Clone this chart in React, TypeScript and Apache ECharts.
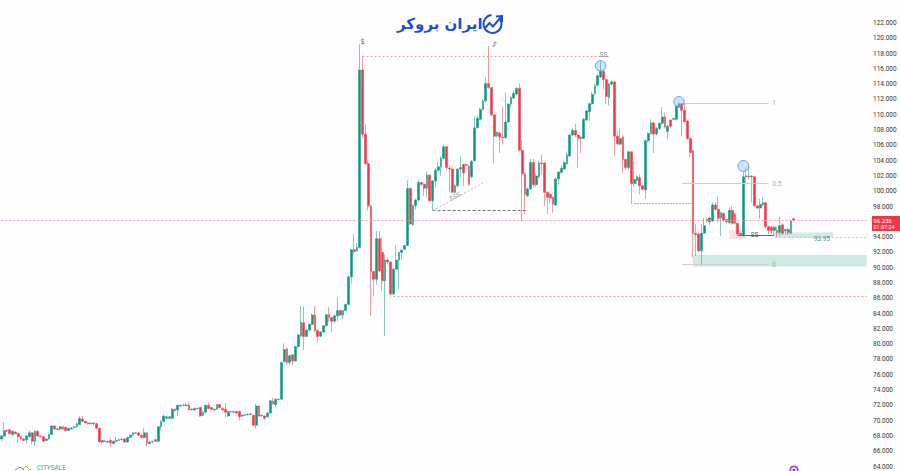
import React, { useEffect, useRef } from 'react';
import * as echarts from 'echarts';

// open, close, low, high (thousands)
const earlyCandles = [
  [67.6,68,67.3,68.1],[68,68.7,67.8,69.8],[68.7,68.6,68.5,68.9],[68.8,68.3,68.2,68.9],[68.2,68.6,68,68.7],
  [68.5,68.3,68.2,68.6],[68.3,67.9,67.1,68.4],[67.9,67.6,67.5,68],[67.6,67.4,67.3,67.7],[67.5,68,67,68.1],
  [67.9,68.4,67.8,68.7],[68.4,67.3,66.9,68.5],[67.3,68.6,66.7,68.8],[68.6,68,67.9,68.7],[68,67.9,67.8,68.1],
  [67.9,67.3,67.2,68],[67.4,67.6,67.3,67.7],[67.6,68.2,67.5,68.3],[68.2,69.3,68.1,69.4],[69.3,68.9,68.8,69.4],
  [68.95,68.85,68.7,69.1],[68.9,69.2,68.6,69.3],[69.2,68.9,68.8,69.3],[69.1,68.7,68.5,69.3],[68.7,69,68.6,69.1],
  [68.9,69,68.8,69.2],[69.1,69.2,69,69.3],[69.2,69.6,69.1,69.7],[69.5,70.3,69.4,70.6],[70.2,69.9,69.8,70.6],
  [69.9,69.7,69.6,70],[69.7,69.6,69.5,69.8],[69.6,69.7,69.5,69.8],[69.7,69.6,69.3,69.8],[69.6,69,68.9,69.7],
  [69,67.2,67.1,69.1],[67.2,67.4,66.9,67.5],[67.3,67.35,67.2,67.5],[67.3,67.2,67.1,67.4],[67.4,67.1,66.6,67.7],
  [67,67.3,66.9,67.4],[67.3,67.4,67.2,67.9],[67.4,67.5,67.3,67.7],[67.5,67.55,67.4,67.7],[67.6,67.2,67.1,67.7],
  [67.2,67.8,67.1,67.9],[67.8,68.1,67.7,68.2],[68.1,68.4,68,68.5],[68.35,68.4,68.3,68.5],[68.4,68.1,68,68.5],
  [68.1,67.8,67.7,68.2],[67.8,68.4,67.7,69],[68.4,67.1,66.6,68.5],[67,67.2,66.9,67.3],[67.2,67.25,67.1,67.4],
  [67.5,67.3,67.2,67.6],[67.3,69.2,67.2,69.3],[69.2,69.9,68.8,70],[69.9,70.6,69.8,70.7],[70.3,70.5,70.2,70.6],
  [70.3,70.5,70.2,70.6],[70.3,71.5,70.2,71.6],[71.5,71.3,71.2,71.6],[71.4,72,70.6,72.1],[71.9,72,71.8,72.1],
  [72,72.05,71.9,72.2],[71.95,72.05,71.9,72.4],[72,71.4,71.3,72.5],[71.5,71.4,71.3,71.6],[71.4,71.6,71.3,71.7],
  [71.55,71.6,71.5,71.7],[71.7,70.6,70.5,71.8],[70.7,71.1,70.6,71.2],[71.1,72,71,72.1],[72,71.6,71.5,72.4],
  [71.7,71.5,71.4,71.8],[71.4,71.5,71.3,71.6],[71.5,72.1,71.4,72.2],[72.1,71.7,71.6,72.2],[71.6,71.4,71.3,71.7],
  [71.5,71.1,70.4,72.3],[70.6,71.2,70.5,71.3],[71.15,71.2,71,71.3],[71.2,71.1,71,71.3],[71.2,71,70.9,71.3],
  [71.2,70.5,70,71.3],[70.6,70.7,70.5,70.8],[70.7,70.8,70.6,70.9],[70.75,70.8,70.7,70.9],[70.9,70.8,70.7,71],
  [70.7,69.4,69.3,70.8],[69.4,71.9,69,72.2],[71.9,70.6,70.5,72],[70.7,70.6,70.5,70.8],[70.6,70.3,70.1,70.7],
  [70.5,71,70.4,71.1],[71,72.6,70.9,72.7],[72.5,72.2,72.1,73],[72.1,72.8,71.8,72.9],[72.75,72.8,72.7,72.9],
  [72.8,77.6,72.7,77.7],
];

const riseCandles = [
  [77.7,79.3,77.6,80.1],[79.4,77.6,77.2,79.5],[77.6,78.5,77.3,78.6],[78.6,77.8,77.3,78.7],[77.8,79.7,77.7,79.8],
  [79.7,81.2,79.5,81.4],[81.1,82.85,80.9,85],[82.8,81,79.2,84.9],[81,81.85,80.9,82],[81.85,82.6,81.7,82.7],
  [82.6,83.8,82.5,84],[83.8,81.8,81.6,85],[81.8,81,80.2,81.9],[81.05,81.6,80.9,81.7],[81.6,82.4,81.5,82.5],
  [82.4,83.85,82.3,84],[83.85,83.5,82.9,84.8],[83.5,83,81.6,83.6],[83,83.7,82.8,83.8],[83.7,84.4,83,86.1],
  [84.4,83.8,83.7,84.5],[83.8,84.4,83.3,84.5],[84.4,85.2,84.3,85.3],[85.2,88.8,85.1,88.9],[88.8,92.35,87.9,92.4],
  [92.35,92.1,91.7,94.4],[92.2,92.65,92.1,93.2],
];

const peakCandles = [
  [92.65,115.85,92.5,119.2],[115.85,107.45,107,117.7],[107.45,103.6,103.4,108.76],[103.6,98.1,97.5,104],
  [98.1,89.5,83.7,98.2],[89.5,88.5,86.3,89.6],[88.5,93.8,87.8,94.8],[93.8,89.6,89.4,94.8],[92,88.3,87,94],
  [88.3,91,81.1,91.7],[91,90.75,90.5,91.2],[90.75,86.55,86.4,90.8],[86.55,89.8,86.4,90],[89.8,91,89.7,92.9],
  [91,92,87.2,92.1],[92,92.3,91,92.4],[92.4,92.9,92.3,93],[92.9,100.35,92.8,101.4],[100.35,95.7,95.6,100.5],
  [95.6,98.1,95.5,98.3],[98.1,98.85,97.6,99],[98.85,101.15,98.7,101.5],[101.15,100.9,100.7,101.2],
  [100.9,100.4,99.4,101],[100.4,102.1,99.2,102.6],[102.1,98.75,98.7,102.2],[98.75,101.35,97.45,101.5],
  [101.35,102.75,100.5,103],[102.75,103.2,102.6,103.9],[103.2,104.3,102,104.6],[104.3,105.8,104.2,106.1],
  [105.8,103.1,102.8,105.9],[103,102.9,99.85,103.3],[102.9,99.85,99.7,103],[99.85,100.7,99.7,100.9],
  [100.7,102.9,100.5,103],[102.9,103.1,101.8,104.6],[103.5,102.4,100.7,103.6],[103.5,103.4,103.2,103.6],
  [103.3,100.9,100.7,103.4],[101.9,103.9,101.7,104.1],[104,108.3,103.9,109.8],[108.3,109.55,108.2,109.9],
  [109.4,110.7,109.3,110.9],[110.7,111.8,110.6,112],[111.8,114.1,111.6,114.85],[114.1,113.55,113.4,119],
  [113.55,110,109.8,113.6],[110,107.2,103.6,110.1],[107.25,107.7,107,107.8],[107.6,107.1,105,107.8],
  [107.1,107,106.1,111],[107,109.05,106.9,112.9],[109.05,111.4,108.9,111.5],[111.4,112.25,111,112.4],
  [112.2,112.8,112,113.2],[112.7,113.45,112.5,113.6],[113.45,105.35,105.2,114.1],[105.35,102.3,96,106.7],
  [102.3,99.6,97,102.5],[99.4,100.3,99.2,100.5],[100.3,103.75,100.2,104.2],[103.75,100.85,100.5,104.2],
  [100.85,102,100.6,102.3],[101.9,103.7,101.7,104],[103.7,103.6,102.2,104.8],[103.7,99.85,98.1,103.8],
  [99.85,99.2,97,100],[99.6,99.1,98.4,99.8],[99.2,98.3,97.2,99.3],[98.2,101.6,98.1,101.8],
  [101.6,102.5,100.9,102.6],[102.45,103,102.3,103.3],[102.9,103.75,102.7,104],[103.6,104.75,103.5,105],
  [104.6,107.35,104.5,107.5],[107.35,107.95,107.2,108.2],[107.95,107.35,107.1,108.85],[107.35,106.9,103,107.4],
  [107.1,106.9,105,107.2],[106.9,109.4,106.8,109.6],[109.3,110.5,109.2,110.7],[110.4,111.45,109.2,111.6],
  [111.45,112.65,111.3,113],[112.8,113.85,112.6,114],[113.85,115.1,113.7,115.3],[114.95,115.7,114.8,117],
  [115.7,114.6,113.3,115.8],[114.6,112.4,111.4,114.7],[112.25,114,111.2,114.2],[114,114.3,113.9,114.5],
  [114.3,107.2,104.6,114.4],[107.2,106.2,106,107.9],[106.15,106.9,106,108.2],[107.1,104.15,102.4,107.3],
  [104.15,103.1,102.9,104.3],[103.1,105.15,102.8,105.3],[105.15,101,98.3,105.2],[101,101.55,100.5,104],
  [101.4,101.9,100.9,102.1],[101.8,100.7,99.6,102.2],[100.7,100.25,100.1,100.8],[100.2,106.6,99,106.8],
  [106.6,107.55,106.4,107.7],[107.55,108.95,107.4,109.4],[108.95,107.45,105,109],[107.5,108.2,107.3,108.4],
  [108.2,108.9,108,109],[108.9,109.7,108.7,111],[109.7,108.4,108.2,110.3],[107.8,108.5,106.8,108.7],
  [109.3,108.5,108.2,109.4],[109.4,109.5,109.2,109.6],[109.4,111.15,109.3,111.3],[111,111.45,110.9,111.6],
  [111.45,110.6,107.2,111.5],[110.6,109.1,109,111.4],[109.2,106.9,106.7,109.3],[106.9,105.05,104.4,107],
];

const lateCandles = [
  [105.3,94.5,91.35,105.4],[94.5,94.3,91.55,95.7],[94.4,92.2,92,94.5],[92.2,94.5,90.25,95.7],[94.5,95.5,94.4,96.5],
  [96.3,96.1,95.9,96.6],[96,96.5,95.6,96.7],[96.1,98.2,96,98.5],[98.2,97.65,97.4,98.5],[97.65,96.45,95.9,99.3],
  [96.5,97.2,94.2,97.3],[97.1,96.2,96,97.2],[96.3,96,95.8,96.4],[95.9,97.5,95.7,97.9],[97.5,95.8,95.6,98.1],
  [97,95.8,95.6,97.2],[95.8,94.4,94.2,95.9],[94.5,94.3,94.2,94.6],[94.2,101.9,94.1,102.5],[102,101.9,101.1,103.1],
  [101.9,102,101.5,103.3],[102,101.9,98.5,102.1],[101.9,98.1,98,102],[98.1,97.8,97.7,98.2],[97.8,98.3,96.35,99],
  [98.2,98.5,98.1,99.2],[98.5,95.35,95.2,98.6],[95.35,94.9,94.4,95.5],[95.3,94.85,94.4,95.4],[94.85,95.3,94.3,95.4],
  [94.9,94.6,94,95.3],[94.6,95.5,94.2,96.65],[95.6,94.5,94.3,95.8],[94.8,95,94.4,95.1],[95,94.6,94.3,95.2],
  [94.5,96.1,94.4,96.2],[96.4,96.236,96.1,96.6],
];

const candles = [...earlyCandles, ...riseCandles, ...peakCandles, ...lateCandles];
const slots = 310; // empty space is left on the right of the last bar
const categories = Array.from({ length: slots }, (_, i) => String(i));

const UP = '#089981';
const DOWN = '#f23645';
const LAST_PRICE = 96.236;

// from: [bar, price], to: [bar, price]
const dashedRed = () => ({ color: '#f59aa2', type: [2, 2], width: 1 });
const fibLine = () => ({ color: '#cfcfcf', type: 'solid', width: 1.2 });
const overlayLines = [
  { from: [0, LAST_PRICE], to: [309, LAST_PRICE], style: dashedRed() },
  { from: [129, 117.7], to: [217, 117.7], style: dashedRed() },
  { from: [140, 86.2], to: [309, 86.2], style: dashedRed() },
  { from: [154, 97.45], to: [188, 97.45], style: { color: '#777', type: [3, 2], width: 1 } },
  { from: [154, 97.45], to: [172, 101.1], style: { color: '#bbb', type: [2, 2], width: 1 } },
  { from: [226, 98.4], to: [247, 98.4], style: { color: '#aaa', type: [2, 1], width: 1 } },
  { from: [243, 111.55], to: [274, 111.55], style: fibLine() },
  { from: [243, 101], to: [274, 101], style: fibLine() },
  { from: [243, 90.4], to: [274, 90.4], style: fibLine() },
  { from: [263, 94.3], to: [276, 94.3], style: { color: '#666', type: 'solid', width: 1 } },
  { from: [278, 93.95], to: [309, 93.95], style: { color: '#a5d6cc', type: [2, 2], width: 1 } },
];

const overlayZones = [
  { from: [247, 91.66], to: [309, 90.15], color: 'rgba(8,153,129,0.2)' },
  { from: [276, 94.6], to: [297, 93.9], color: 'rgba(8,153,129,0.2)' },
  { from: [260, 94.9], to: [266, 93.75], color: 'rgba(242,54,69,0.15)' },
];

const circles = [
  { at: [214, 116.4], size: 10.5 },
  { at: [242, 111.7], size: 10.5 },
  { at: [265, 103.3], size: 11 },
];

const notes = [
  { at: [129, 119.5], text: '$', rotate: 0, color: '#555' },
  { at: [176, 119.2], text: '$', rotate: -25, color: '#666' },
  { at: [215, 117.8], text: 'SS', rotate: 0, color: '#888' },
  { at: [162, 99.3], text: 'SSS', rotate: 28, color: '#999' },
  { at: [269, 94.3], text: 'SS', rotate: 0, color: '#555' },
  { at: [275.5, 111.55], text: '1', rotate: 0, color: '#aaa' },
  { at: [276.5, 101], text: '0.5', rotate: 0, color: '#aaa' },
  { at: [275.5, 90.4], text: '0', rotate: 0, color: '#aaa' },
  { at: [293, 93.8], text: '93.95', rotate: 0, color: '#4d8f83' },
];

const App: React.FC = () => {
  const chartRef = useRef<HTMLDivElement>(null);

  useEffect(() => {
    if (!chartRef.current) return;
    const chart = echarts.init(chartRef.current, null, { renderer: 'svg' });

    const option: any = {
      animation: false,
      backgroundColor: '#fefefe',
      textStyle: { fontFamily: 'Roboto, sans-serif' },
      grid: { left: 0, right: 32, top: 23, bottom: 4.5 },
      xAxis: { type: 'category', data: categories, show: false, boundaryGap: true },
      yAxis: {
        type: 'value',
        position: 'right',
        min: 64,
        max: 122,
        interval: 2,
        axisLine: { show: false },
        axisTick: { show: false },
        splitLine: { show: false },
        axisLabel: {
          margin: 5,
          fontSize: 6.5,
          color: '#333',
          // the last price tag sits on top of 96.000
          formatter: (v: number) => (v === 96 ? '' : v.toFixed(3)),
        },
      },
      series: [
        {
          type: 'candlestick',
          data: candles,
          barWidth: 2.4,
          itemStyle: {
            color: UP,
            color0: DOWN,
            borderColor: UP,
            borderColor0: DOWN,
            borderWidth: 0.5,
          },
          markLine: {
            silent: true,
            symbol: 'none',
            label: { show: false },
            data: overlayLines.map((l) => [
              { coord: l.from, lineStyle: l.style },
              { coord: l.to },
            ]),
          },
          markArea: {
            silent: true,
            data: overlayZones.map((z) => [
              { coord: z.from, itemStyle: { color: z.color } },
              { coord: z.to },
            ]),
          },
          markPoint: {
            silent: true,
            data: [
              ...circles.map((c) => ({
                coord: c.at,
                symbol: 'circle',
                symbolSize: c.size,
                itemStyle: { color: 'rgba(90,170,235,0.3)', borderColor: '#4a90e2', borderWidth: 0.8 },
                label: { show: false },
              })),
              ...notes.map((n) => ({
                coord: n.at,
                symbol: 'circle',
                symbolSize: 0,
                label: {
                  show: true,
                  position: 'inside',
                  formatter: n.text,
                  rotate: n.rotate,
                  fontSize: 6.5,
                  color: n.color,
                },
              })),
            ],
          },
        },
      ],
      graphic: [
        // last price tag
        { type: 'rect', shape: { x: 872, y: 216, width: 28, height: 15 }, style: { fill: DOWN } },
        { type: 'text', x: 873.5, y: 217, style: { text: '96.236', fill: '#fff', font: '6px Roboto' } },
        { type: 'text', x: 873.5, y: 224, style: { text: '01:37:24', fill: '#fff', font: '5.5px Roboto' } },
        // logo
        {
          type: 'text',
          x: 397,
          y: 16,
          style: { text: 'ایران بروکر', fill: '#1a4fd6', font: 'bold 15px "DejaVu Sans"' },
        },
        {
          type: 'arc',
          shape: { cx: 492.5, cy: 24, r: 9, startAngle: -0.6, endAngle: 4.6 },
          style: { stroke: '#1a4fd6', fill: 'none', lineWidth: 2 },
        },
        {
          type: 'polyline',
          shape: { points: [[485, 28], [489.5, 23], [493, 26.5], [501, 17]] },
          style: { stroke: '#1a4fd6', fill: 'none', lineWidth: 2 },
        },
        {
          type: 'polyline',
          shape: { points: [[496, 16.5], [502, 16], [502, 22]] },
          style: { stroke: '#1a4fd6', fill: 'none', lineWidth: 2 },
        },
        // bottom marks
        {
          type: 'polyline',
          shape: { points: [[15, 470], [20, 467], [24, 470]] },
          style: { stroke: '#5d9c94', fill: 'none', lineWidth: 1 },
        },
        {
          type: 'polyline',
          shape: { points: [[22, 470], [26, 466], [30, 470]] },
          style: { stroke: '#e8a04a', fill: 'none', lineWidth: 1 },
        },
        { type: 'text', x: 37, y: 464, style: { text: 'CITYSALE', fill: '#5d9c94', font: '6.5px Roboto' } },
        {
          type: 'ring',
          shape: { cx: 794, cy: 470, r: 4.5, r0: 3 },
          style: { fill: '#9b30ff' },
        },
        {
          type: 'circle',
          shape: { cx: 794, cy: 470, r: 1.5 },
          style: { fill: '#9b30ff' },
        },
      ],
    };

    chart.setOption(option);
    return () => chart.dispose();
  }, []);

  return (
    <div
      ref={chartRef}
      style={{ position: 'fixed', left: 0, top: 0, width: 900, height: 471 }}
    />
  );
};

export default App;
